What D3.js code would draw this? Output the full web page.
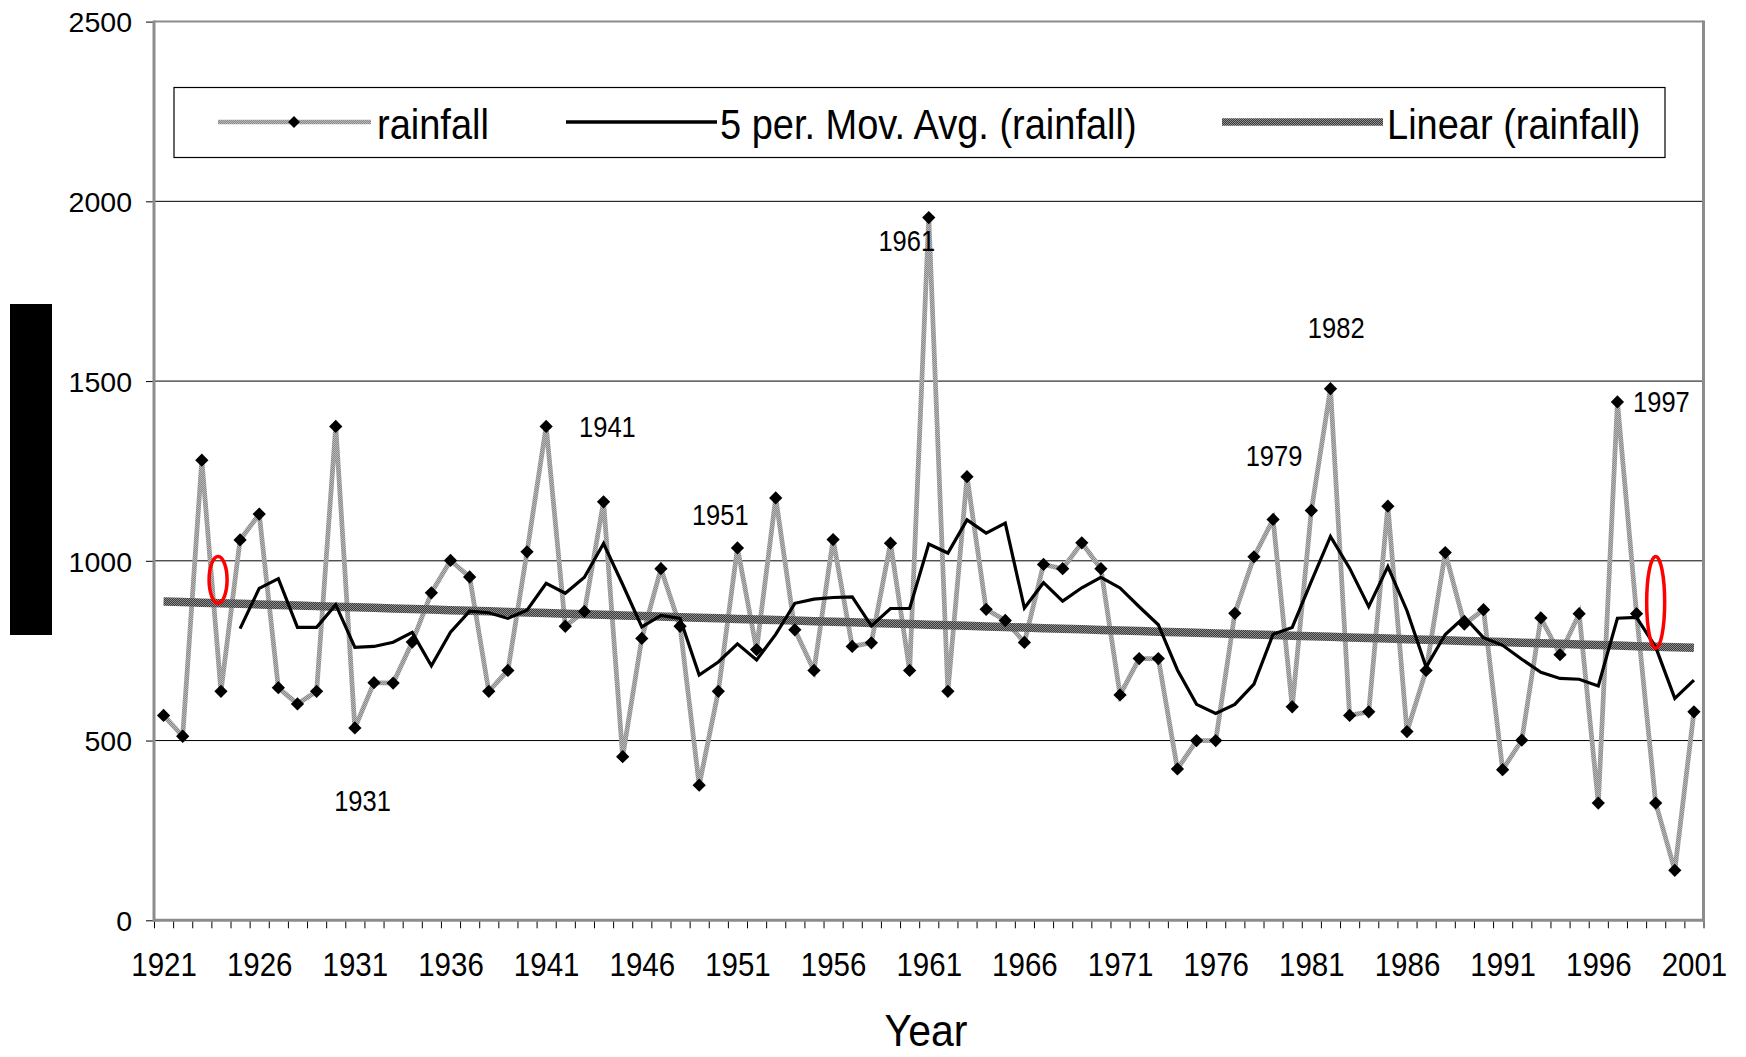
<!DOCTYPE html>
<html><head><meta charset="utf-8">
<script src="https://cdn.jsdelivr.net/npm/d3@7"></script>
<style>
html,body{margin:0;padding:0;background:#fff;}
svg{display:block;}
text{font-family:"Liberation Sans", Arial, sans-serif; fill:#000;}
</style>
</head><body>
<svg id="chart" width="1746" height="1057"></svg>
<script>
// ---------------- data ----------------
const years = d3.range(1921, 2002);
const rainfall = [
  570, 512, 1280, 637, 1058, 1130, 647, 602, 637, 1374,
  535, 661, 660, 774, 911, 1001, 955, 637, 695, 1025,
  1374, 818, 859, 1164, 455, 784, 978, 818, 376, 637,
  1036, 753, 1175, 808, 695, 1059, 762, 772, 1049, 695,
  1955, 637, 1234, 865, 834, 773, 990, 978, 1050, 978,
  627, 728, 728, 421, 500, 500, 854, 1011, 1115, 594,
  1140, 1479, 570, 580, 1152, 525, 695, 1023, 824, 864,
  419, 501, 841, 739, 853, 326, 1442, 853, 326, 139,
  580
];
const xTickYears = [1921,1926,1931,1936,1941,1946,1951,1956,1961,1966,1971,1976,1981,1986,1991,1996,2001];
const yTicks = [0, 500, 1000, 1500, 2000, 2500];
const seriesNames = ["rainfall", "5 per. Mov. Avg. (rainfall)", "Linear (rainfall)"];
const axisTitleX = "Year";
const yearNotes = [
  {text: "1931", year: 1931.4, value: 303},
  {text: "1941", year: 1944.2, value: 1345},
  {text: "1951", year: 1950.1, value: 1101},
  {text: "1961", year: 1959.85, value: 1861},
  {text: "1979", year: 1979.05, value: 1264},
  {text: "1982", year: 1982.3, value: 1620},
  {text: "1997", year: 1999.3, value: 1414}
];
const highlights = [
  {year: 1923.85, lo: 882, hi: 1012},
  {year: 1999.0, lo: 757, hi: 1012}
];

// ---------------- derived series (as the chart defines them) ----------------
const period = 5;
const movAvg = years.map((yr, i) => i < period - 1 ? null : d3.mean(rainfall.slice(i - period + 1, i + 1)));
const mx = d3.mean(years), my = d3.mean(rainfall);
const slope = d3.sum(years, (yr, i) => (yr - mx) * (rainfall[i] - my)) / d3.sum(years, yr => (yr - mx) ** 2);
const trend = years.map(yr => my + slope * (yr - mx));

// ---------------- layout ----------------
const svg = d3.select("#chart");
const plot = {left: 154, right: 1703.5, top: 21.6, bottom: 920.3};
const x = d3.scaleLinear().domain([1920.5, 2001.5]).range([plot.left, plot.right]);
const y = d3.scaleLinear().domain([0, 2500]).range([plot.bottom, plot.top]);

const defs = svg.append("defs");
function checker(id, c1, c2) {
  const p = defs.append("pattern").attr("id", id).attr("patternUnits", "userSpaceOnUse")
    .attr("width", 2).attr("height", 2);
  p.append("rect").attr("width", 2).attr("height", 2).attr("fill", c1);
  p.append("rect").attr("width", 1).attr("height", 1).attr("fill", c2);
  p.append("rect").attr("x", 1).attr("y", 1).attr("width", 1).attr("height", 1).attr("fill", c2);
}
checker("patRain", "#8a8a8a", "#b8b8b8");
checker("patTrend", "#3a3a3a", "#8f8f8f");

// gridlines
svg.append("g").selectAll("line").data(yTicks.filter(v => v > 0 && v < 2500)).join("line")
  .attr("x1", plot.left).attr("x2", plot.right)
  .attr("y1", d => y(d)).attr("y2", d => y(d))
  .attr("stroke", "#000").attr("stroke-width", 1);

// y axis
const yAxis = svg.append("g").attr("transform", `translate(${plot.left},0)`)
  .call(d3.axisLeft(y).tickValues(yTicks).tickSize(8).tickPadding(14).tickFormat(d3.format("d")));
yAxis.select(".domain").remove();
yAxis.selectAll(".tick line").attr("stroke", "#000");
yAxis.selectAll(".tick text").attr("font-size", 28.5).attr("dy", "0.36em")
  .style("font-family", '"Liberation Sans", Arial, sans-serif');

// x axis: tick marks at category boundaries
const xTickMarks = svg.append("g").attr("transform", `translate(0,${plot.bottom})`)
  .call(d3.axisBottom(x).tickValues(d3.range(1920.5, 2002, 1)).tickSize(8).tickFormat(""));
xTickMarks.select(".domain").remove();
xTickMarks.selectAll(".tick line").attr("stroke", "#000");
// x axis labels
const xLabels = svg.append("g").attr("transform", `translate(0,${plot.bottom})`)
  .call(d3.axisBottom(x).tickValues(xTickYears).tickSize(0).tickFormat(d3.format("d")));
xLabels.select(".domain").remove();
xLabels.selectAll(".tick text").attr("y", null).attr("dy", null)
  .attr("font-size", 29.5).attr("transform", "translate(0,55.5) scale(1,1.1)")
  .style("font-family", '"Liberation Sans", Arial, sans-serif');

// plot frame
const frame = svg.append("g").attr("fill", "none").attr("stroke", "#8c8c8c");
frame.append("line").attr("x1", plot.left).attr("x2", plot.right).attr("y1", plot.top).attr("y2", plot.top).attr("stroke-width", 2);
frame.append("line").attr("x1", plot.left).attr("x2", plot.left).attr("y1", plot.top - 1).attr("y2", plot.bottom + 1.5).attr("stroke-width", 3);
frame.append("line").attr("x1", plot.right).attr("x2", plot.right).attr("y1", plot.top - 1).attr("y2", plot.bottom + 1.5).attr("stroke-width", 3);
frame.append("line").attr("x1", plot.left).attr("x2", plot.right).attr("y1", plot.bottom).attr("y2", plot.bottom).attr("stroke-width", 3);

// series
const pts = years.map((yr, i) => ({yr, v: rainfall[i], ma: movAvg[i], tr: trend[i]}));
svg.append("path").datum(pts)
  .attr("d", d3.line().x(d => x(d.yr)).y(d => y(d.v)))
  .attr("fill", "none").attr("stroke", "url(#patRain)").attr("stroke-width", 4.8).attr("stroke-linejoin", "miter");

svg.append("path").datum(pts)
  .attr("d", d3.line().x(d => x(d.yr)).y(d => y(d.tr)))
  .attr("fill", "none").attr("stroke", "url(#patTrend)").attr("stroke-width", 8.5);

svg.append("path").datum(pts)
  .attr("d", d3.line().defined(d => d.ma != null).x(d => x(d.yr)).y(d => y(d.ma)))
  .attr("fill", "none").attr("stroke", "#000").attr("stroke-width", 3.2);

const diamond = d3.symbol(d3.symbolSquare, 88);
svg.append("g").selectAll("path").data(pts).join("path")
  .attr("d", diamond)
  .attr("transform", d => `translate(${x(d.yr)},${y(d.v)}) rotate(45)`)
  .attr("fill", "#000");

// year annotations
svg.append("g").selectAll("text").data(yearNotes).join("text")
  .attr("text-anchor", "middle").attr("font-size", 25.5)
  .attr("transform", d => `translate(${x(d.year)},${y(d.value)}) scale(1,1.13)`)
  .text(d => d.text);

// red highlight ellipses
svg.append("g").selectAll("ellipse").data(highlights).join("ellipse")
  .attr("cx", d => x(d.year))
  .attr("cy", d => y((d.lo + d.hi) / 2))
  .attr("rx", 9)
  .attr("ry", d => (y(d.lo) - y(d.hi)) / 2)
  .attr("fill", "none").attr("stroke", "#ff0000").attr("stroke-width", 3.5);

// legend
const lg = svg.append("g");
lg.append("rect").attr("x", 174).attr("y", 87.5).attr("width", 1491).attr("height", 70)
  .attr("fill", "#fff").attr("stroke", "#000").attr("stroke-width", 1.2);
const legY = 122;
lg.append("line").attr("x1", 218).attr("x2", 371).attr("y1", legY).attr("y2", legY)
  .attr("stroke", "url(#patRain)").attr("stroke-width", 4.5);
lg.append("path").attr("d", d3.symbol(d3.symbolSquare, 70)).attr("transform", `translate(294,${legY}) rotate(45)`).attr("fill", "#000");
lg.append("line").attr("x1", 566).attr("x2", 717).attr("y1", legY).attr("y2", legY)
  .attr("stroke", "#000").attr("stroke-width", 3.5);
lg.append("line").attr("x1", 1222).attr("x2", 1383).attr("y1", legY).attr("y2", legY)
  .attr("stroke", "url(#patTrend)").attr("stroke-width", 7.5);
const legTextX = [377, 720, 1387];
lg.selectAll("text.leg").data(seriesNames).join("text").attr("class", "leg")
  .attr("font-size", 38)
  .attr("transform", (d, i) => `translate(${legTextX[i]},139) scale(1,1.13)`)
  .text(d => d);

// axis title
svg.append("text").attr("text-anchor", "middle").attr("font-size", 41)
  .attr("transform", "translate(926,1046) scale(1,1.08)").text(axisTitleX);

// redacted y-axis title block
svg.append("rect").attr("x", 10).attr("y", 304).attr("width", 42).attr("height", 331).attr("fill", "#000");
</script>
</body></html>
